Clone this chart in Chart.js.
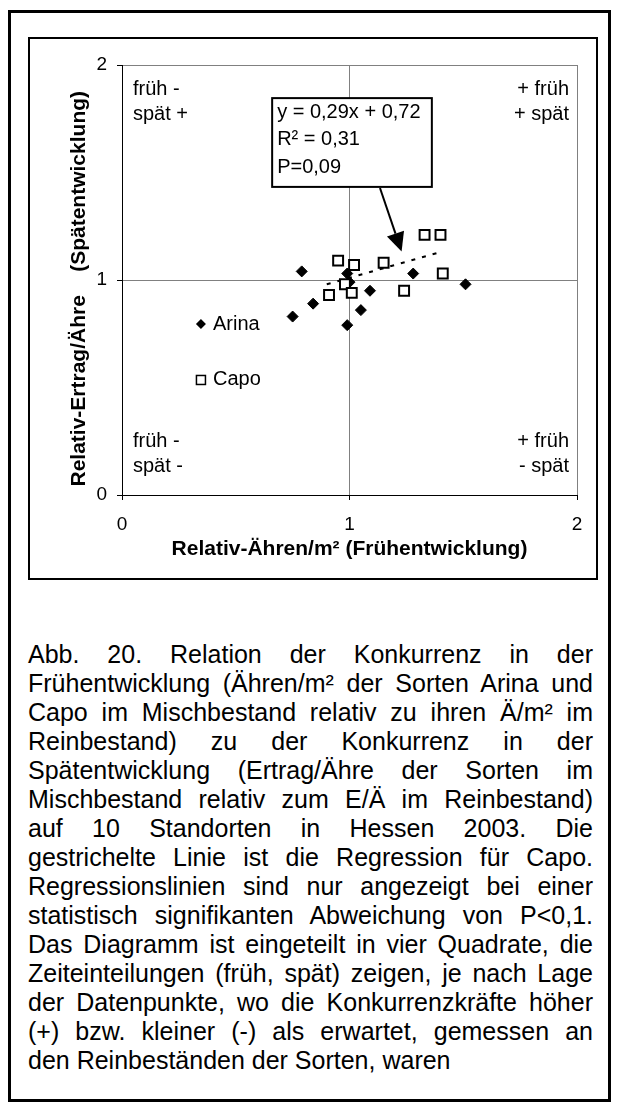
<!DOCTYPE html>
<html>
<head>
<meta charset="utf-8">
<script src="https://cdn.jsdelivr.net/npm/chart.js@4/dist/chart.umd.min.js"></script>
<style>
body{margin:0;background:#fff;width:619px;height:1113px;overflow:hidden;position:relative;font-family:"Liberation Sans",Arial,sans-serif;color:#000;}
#outer{position:absolute;left:8px;top:10px;width:603px;height:1092px;border:3px solid #000;box-sizing:border-box;}
#frame{position:absolute;left:28px;top:37px;width:570px;height:543px;border:2px solid #000;box-sizing:border-box;}
#chart{position:absolute;left:0;top:0;}
#caption{position:absolute;left:28px;top:640px;width:565px;font-size:25px;line-height:29px;}
#caption div{text-align:justify;text-align-last:justify;white-space:nowrap;}
#caption div.last{text-align-last:left;}
</style>
</head>
<body>
<div id="outer"></div>
<div id="frame"></div>
<canvas id="chart" width="619" height="600"></canvas>
<div id="caption">
<div>Abb. 20. Relation der Konkurrenz in der</div>
<div>Frühentwicklung (Ähren/m² der Sorten Arina und</div>
<div>Capo im Mischbestand relativ zu ihren Ä/m² im</div>
<div>Reinbestand) zu der Konkurrenz in der</div>
<div>Spätentwicklung (Ertrag/Ähre der Sorten im</div>
<div>Mischbestand relativ zum E/Ä im Reinbestand)</div>
<div>auf 10 Standorten in Hessen 2003. Die</div>
<div>gestrichelte Linie ist die Regression für Capo.</div>
<div>Regressionslinien sind nur angezeigt bei einer</div>
<div>statistisch signifikanten Abweichung von P&lt;0,1.</div>
<div>Das Diagramm ist eingeteilt in vier Quadrate, die</div>
<div>Zeiteinteilungen (früh, spät) zeigen, je nach Lage</div>
<div>der Datenpunkte, wo die Konkurrenzkräfte höher</div>
<div>(+) bzw. kleiner (-) als erwartet, gemessen an</div>
<div class="last">den Reinbeständen der Sorten, waren</div>
</div>
<script>
const FONT='"Liberation Sans", Arial, sans-serif';

// Arina (filled diamonds)
const arinaX=[0.79,0.75,0.84,0.99,1.05,0.99,1.09,1.28,1.51,1.00];
const arinaY=[1.04,0.83,0.89,1.03,0.86,0.79,0.95,1.03,0.98,0.99];
// Capo (open squares)
const capoX=[0.95,1.02,1.15,1.33,1.40,1.41,1.24,0.98,1.01,0.91];
const capoY=[1.09,1.07,1.08,1.21,1.21,1.03,0.95,0.98,0.94,0.93];
// regression line for Capo, end points
const trendX=[0.90,1.40];
const trendY=[0.98,1.13];

const xTicks=[0,1,2];
const yTicks=[0,1,2];
const xTitle='Relativ-Ähren/m² (Frühentwicklung)';
const yTitle='Relativ-Ertrag/Ähre    (Spätentwicklung)   ';
const quadTopLeft=['früh -','spät +'];
const quadTopRight=['+ früh','+ spät'];
const quadBottomLeft=['früh -','spät -'];
const quadBottomRight=['+ früh','- spät'];
const eqLines=['y = 0,29x + 0,72','R² = 0,31','P=0,09'];
const legendNames=['Arina','Capo'];

function pts(xs,ys){return xs.map((x,i)=>({x:x,y:ys[i]}));}

Chart.defaults.font.family=FONT;
Chart.defaults.color='#000';

const overlay={
  id:'overlay',
  afterDatasetsDraw(chart){
    const {ctx,chartArea:a,scales:{x,y}}=chart;
    ctx.save();
    ctx.fillStyle='#000';
    ctx.font='20px '+FONT;
    ctx.textBaseline='middle';

    // quadrant labels
    ctx.textAlign='left';
    ctx.fillText(quadTopLeft[0],a.left+11,a.top+24);
    ctx.fillText(quadTopLeft[1],a.left+11,a.top+49);
    ctx.fillText(quadBottomLeft[0],a.left+11,a.bottom-54);
    ctx.fillText(quadBottomLeft[1],a.left+11,a.bottom-29);
    ctx.textAlign='right';
    ctx.fillText(quadTopRight[0],a.right-8,a.top+24);
    ctx.fillText(quadTopRight[1],a.right-8,a.top+49);
    ctx.fillText(quadBottomRight[0],a.right-8,a.bottom-54);
    ctx.fillText(quadBottomRight[1],a.right-8,a.bottom-29);

    // regression box
    const bl=x.getPixelForValue(0.66),br=x.getPixelForValue(1.362);
    const bt=y.getPixelForValue(1.846),bb=y.getPixelForValue(1.433);
    ctx.fillStyle='#fff';
    ctx.fillRect(bl,bt,br-bl,bb-bt);
    ctx.strokeStyle='#000';
    ctx.lineWidth=2;
    ctx.strokeRect(bl,bt,br-bl,bb-bt);
    ctx.fillStyle='#000';
    ctx.textAlign='left';
    eqLines.forEach((t,i)=>ctx.fillText(t,bl+5,bt+14+i*27.5));

    // arrow
    const sx=x.getPixelForValue(1.134),sy=y.getPixelForValue(1.428);
    const tx=x.getPixelForValue(1.229),ty=y.getPixelForValue(1.132);
    const len=Math.hypot(tx-sx,ty-sy),ux=(tx-sx)/len,uy=(ty-sy)/len;
    const hl=19,hw=9;
    const mx=tx-ux*hl,my=ty-uy*hl;
    ctx.beginPath();
    ctx.moveTo(sx,sy);ctx.lineTo(mx,my);
    ctx.lineWidth=2;ctx.stroke();
    ctx.beginPath();
    ctx.moveTo(tx,ty);
    ctx.lineTo(mx-uy*hw,my+ux*hw);
    ctx.lineTo(mx+uy*hw,my-ux*hw);
    ctx.closePath();ctx.fill();

    // legend
    const lx=x.getPixelForValue(0.347);
    const ly1=y.getPixelForValue(0.795),ly2=y.getPixelForValue(0.535);
    ctx.beginPath();
    ctx.moveTo(lx-5,ly1);ctx.lineTo(lx,ly1-5);ctx.lineTo(lx+5,ly1);ctx.lineTo(lx,ly1+5);
    ctx.closePath();ctx.fill();
    ctx.lineWidth=1.5;
    ctx.strokeRect(lx-4.5,ly2-4.5,9,9);
    ctx.fillText(legendNames[0],lx+12,ly1);
    ctx.fillText(legendNames[1],lx+12,ly2);
    ctx.restore();
  }
};

new Chart(document.getElementById('chart'),{
  type:'scatter',
  data:{
    datasets:[
      {label:'Capo',data:pts(capoX,capoY),pointStyle:'rect',pointRadius:7,borderWidth:2,
       borderColor:'#000',backgroundColor:'#fff',order:1},
      {label:'Arina',data:pts(arinaX,arinaY),pointStyle:'rectRot',pointRadius:5.5,borderWidth:1,
       borderColor:'#000',backgroundColor:'#000',order:2},
      {label:'Regression Capo',data:pts(trendX,trendY),showLine:true,pointRadius:0,
       borderColor:'#000',borderWidth:2,borderDash:[4,7],order:3}
    ]
  },
  options:{
    responsive:false,
    animation:false,
    layout:{padding:{left:30,right:42,top:65,bottom:21}},
    plugins:{legend:{display:false},tooltip:{enabled:false}},
    scales:{
      x:{
        type:'linear',min:0,max:2,
        afterBuildTicks(s){s.ticks=xTicks.map(v=>({value:v}));},
        afterFit(s){s.height=84;},
        ticks:{font:{size:19},padding:13,color:'#000'},
        grid:{color:c=>c.tick&&c.tick.value>0?'#808080':'rgba(0,0,0,0)',tickColor:'#000',tickLength:5},
        border:{color:'#000',width:1},
        title:{display:true,text:xTitle,font:{size:21,weight:'bold'},color:'#000',padding:{top:0,bottom:17}}
      },
      y:{
        type:'linear',min:0,max:2,
        afterBuildTicks(s){s.ticks=yTicks.map(v=>({value:v}));},
        afterFit(s){s.width=92;},
        ticks:{font:{size:19},padding:10,color:'#000'},
        grid:{color:c=>c.tick&&c.tick.value>0?'#808080':'rgba(0,0,0,0)',tickColor:'#000',tickLength:5},
        border:{color:'#000',width:1},
        title:{display:true,text:yTitle,font:{size:21,weight:'bold'},color:'#000',padding:{top:37,bottom:0}}
      }
    }
  },
  plugins:[overlay]
});
</script>
</body>
</html>
